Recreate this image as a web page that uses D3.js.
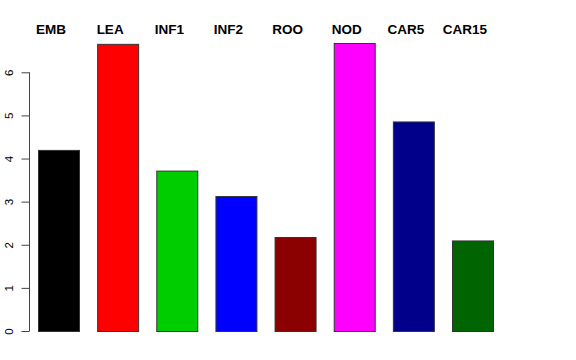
<!DOCTYPE html>
<html>
<head>
<meta charset="utf-8">
<script src="https://cdn.jsdelivr.net/npm/d3@7"></script>
<style>
  body { margin: 0; background: #fff; }
  svg { display: block; }
</style>
</head>
<body>
<svg id="chart" width="576" height="360"></svg>
<script>
const categories = ["EMB", "LEA", "INF1", "INF2", "ROO", "NOD", "CAR5", "CAR15"];
const values = [4.2, 6.66, 3.72, 3.13, 2.18, 6.68, 4.86, 2.10];
const colors = ["#000000", "#FF0000", "#00CD00", "#0000FF", "#8B0000", "#FF00FF", "#00008B", "#006400"];
const yTicks = [0, 1, 2, 3, 4, 5, 6];

const svg = d3.select("#chart");
const x = d3.scaleBand().domain(categories).range([38, 494]).paddingInner(0.29).paddingOuter(0);
const y = d3.scaleLinear().domain([0, 6]).range([331, 72.3]);

svg.selectAll("rect.bar")
  .data(categories)
  .join("rect")
  .attr("class", "bar")
  .attr("x", d => x(d) + 0.5)
  .attr("y", (d, i) => y(values[i]) + 0.5)
  .attr("width", x.bandwidth() - 1)
  .attr("height", (d, i) => y(0) - y(values[i]))
  .attr("fill", (d, i) => colors[i])
  .attr("stroke", "#333")
  .attr("stroke-width", 1);

const yAxis = d3.axisLeft(y).tickValues(yTicks).tickSize(8).tickPadding(4).tickFormat(d3.format("d"));
const gy = svg.append("g").attr("transform", "translate(29.5,0)").call(yAxis);
gy.select(".domain").attr("d", `M0,${y(0)}V${y(6)}`).attr("stroke", "#444");
gy.selectAll(".tick line").attr("stroke", "#444");
gy.selectAll(".tick text")
  .attr("font-family", "Liberation Sans, Arial, sans-serif")
  .attr("font-size", 11.5)
  .attr("fill", "#000")
  .attr("text-anchor", "middle")
  .attr("x", null)
  .attr("dy", null)
  .attr("transform", "translate(-20.5,0) rotate(-90)")
  .attr("dominant-baseline", "central");

svg.selectAll("text.cat")
  .data(categories)
  .join("text")
  .attr("class", "cat")
  .attr("x", d => x(d) + x.bandwidth() / 2 - 8)
  .attr("y", 34)
  .attr("text-anchor", "middle")
  .attr("font-family", "Liberation Sans, Arial, sans-serif")
  .attr("font-weight", "bold")
  .attr("font-size", 13.5)
  .text(d => d);
</script>
</body>
</html>
